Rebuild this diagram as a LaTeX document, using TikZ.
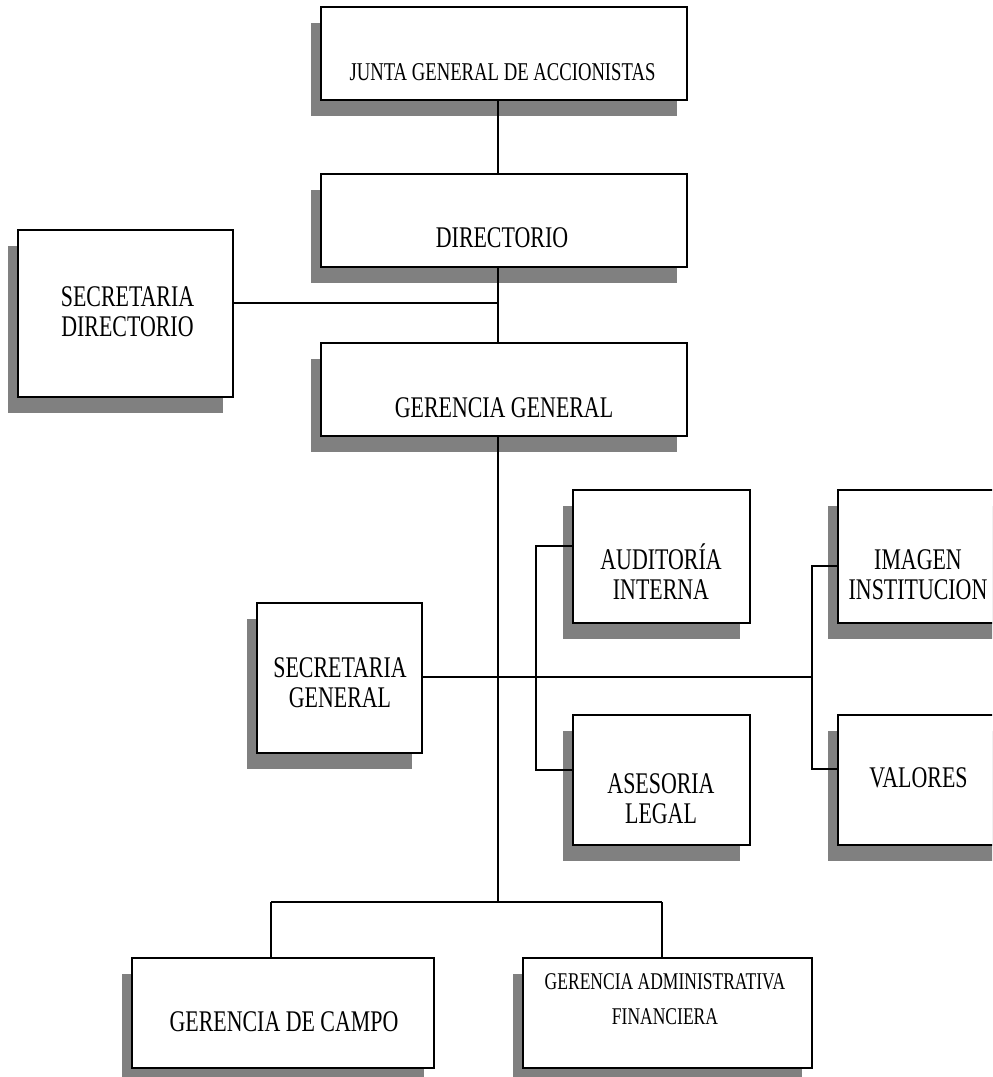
\documentclass[tikz,border=0pt]{standalone}
\usepackage{fontspec}
\setmainfont{Liberation Serif}[FakeStretch=0.73]
\usetikzlibrary{shadows}
\definecolor{shadowgray}{HTML}{808080}
\tikzset{
  orgbox/.style={draw=black, line width=1pt, fill=white, inner sep=0pt,
    drop shadow={shadow xshift=-5pt, shadow yshift=-8pt, fill=shadowgray, opacity=1}},
  boxtext/.style={align=center, inner sep=0pt, font=\fontsize{15}{15}\selectfont},
  link/.style={line width=1pt, draw=black},
}
\begin{document}
\begin{tikzpicture}[x=0.5pt,y=-0.5pt]
\useasboundingbox (0,0) rectangle (992,1077);
\clip (0,0) rectangle (992,1077);

% boxes
\node[orgbox, minimum width=183pt, minimum height=46.5pt] (junta) at (504,53.5) {};
\node[orgbox, minimum width=183pt, minimum height=46.5pt] (dir) at (504,220.5) {};
\node[orgbox, minimum width=107.5pt, minimum height=83.5pt] (secdir) at (125.5,313.5) {};
\node[orgbox, minimum width=183pt, minimum height=46.5pt] (gg) at (504,389.5) {};
\node[orgbox, minimum width=88.5pt, minimum height=66.5pt] (audit) at (661.5,556.5) {};
\node[orgbox, minimum width=88.5pt, minimum height=65pt] (ases) at (661.5,780) {};
\node[orgbox, minimum width=88.5pt, minimum height=66.5pt] (imagen) at (926.5,556.5) {};
\node[orgbox, minimum width=88.5pt, minimum height=65pt] (valores) at (926.5,780) {};
\node[orgbox, minimum width=82.5pt, minimum height=75pt] (secgen) at (339.5,678) {};
\node[orgbox, minimum width=151pt, minimum height=55pt] (campo) at (283,1013) {};
\node[orgbox, minimum width=144.5pt, minimum height=55pt] (gaf) at (667.5,1013) {};

% labels
\node[boxtext, font=\fontsize{12.8}{12.8}\selectfont] (junta-t) at (502.5,72) {JUNTA GENERAL DE ACCIONISTAS};
\node[boxtext] (dir-t) at (502,238) {DIRECTORIO};
\node[boxtext] (secdir-t) at (127.5,312) {SECRETARIA\\DIRECTORIO};
\node[boxtext] (gg-t) at (504,408) {GERENCIA GENERAL};
\node[boxtext] (audit-t) at (661,572) {AUDITORÍA\\INTERNA};
\node[boxtext] (ases-t) at (661,798.5) {ASESORIA\\LEGAL};
\node[boxtext] (imagen-t) at (918,574.5) {IMAGEN\\INSTITUCION};
\node[boxtext] (valores-t) at (918.5,778) {VALORES};
\node[boxtext] (secgen-t) at (340,683) {SECRETARIA\\GENERAL};
\node[boxtext] (campo-t) at (284,1022) {GERENCIA DE CAMPO};
\node[boxtext, font=\fontsize{12}{17.5}\selectfont] (gaf-t) at (665,999.5) {GERENCIA ADMINISTRATIVA\\FINANCIERA};

% connectors
\coordinate (trunk) at (498,0);
\draw[link] (junta.south -| trunk) -- (dir.north -| trunk);
\draw[link] (dir.south -| trunk) -- (gg.north -| trunk);
\coordinate (sdj) at (498,303);
\draw[link] (secdir.east |- sdj) -- (sdj);
\coordinate (split) at (498,902);
\draw[link] (gg.south -| trunk) -- (split);
\coordinate (campoj) at (271,902);
\coordinate (gafj) at (662,902);
\draw[link] (campoj) -- (gafj);
\draw[link] (campoj) -- (campo.north -| campoj);
\draw[link] (gafj) -- (gaf.north -| gafj);
\coordinate (midr) at (812,677);
\draw[link] (secgen.east |- midr) -- (midr);
\coordinate (lbtop) at (536,546);
\coordinate (lbbot) at (536,770);
\draw[link] (audit.west |- lbtop) -- (lbtop) -- (lbbot) -- (ases.west |- lbbot);
\coordinate (rbtop) at (812,566);
\coordinate (rbbot) at (812,769);
\draw[link] (imagen.west |- rbtop) -- (rbtop) -- (rbbot) -- (valores.west |- rbbot);
\end{tikzpicture}
\end{document}
